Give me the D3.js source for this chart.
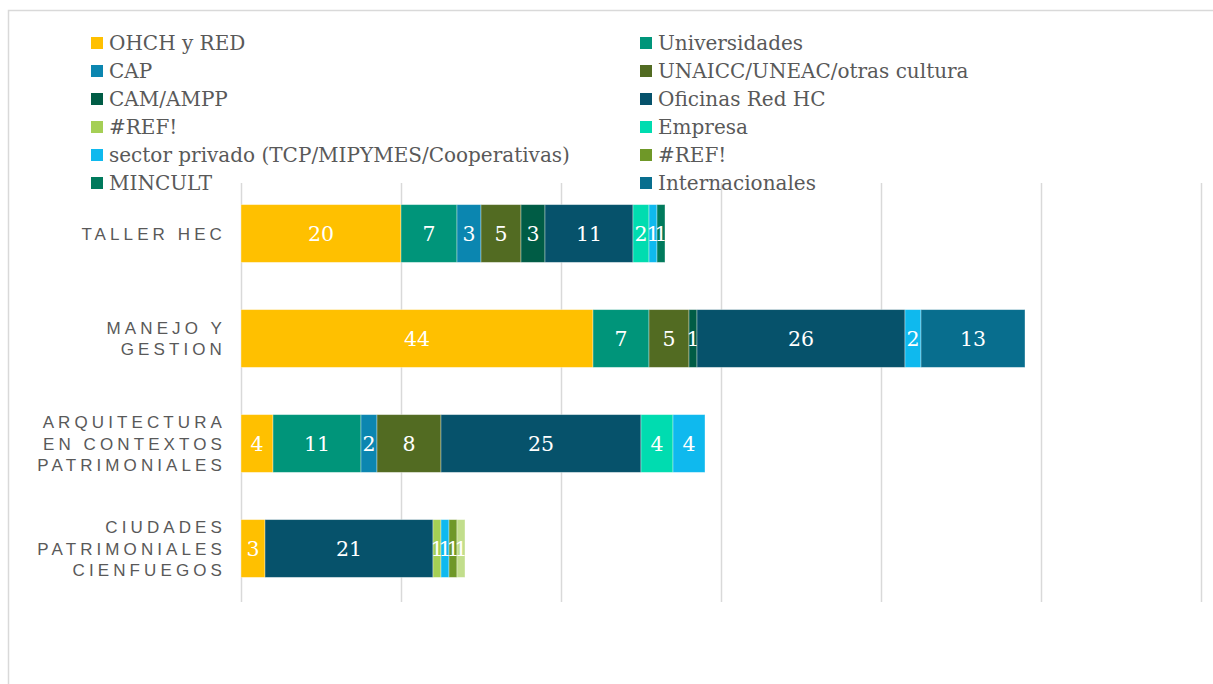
<!DOCTYPE html>
<html>
<head>
<meta charset="utf-8">
<script src="https://cdn.jsdelivr.net/npm/d3@7"></script>
<style>
  body { margin: 0; background: #fff; }
  svg { display: block; }
</style>
</head>
<body>
<div id="chart"></div>
<script>
// Stacked horizontal bars, Excel style

// Data
// ==============================
var categories = [
    ["TALLER HEC"],
    ["MANEJO Y", "GESTION"],
    ["ARQUITECTURA", "EN CONTEXTOS", "PATRIMONIALES"],
    ["CIUDADES", "PATRIMONIALES", "CIENFUEGOS"]
];

var seriesNames = [
    "OHCH y RED", "Universidades", "CAP", "UNAICC/UNEAC/otras cultura",
    "CAM/AMPP", "Oficinas Red HC", "#REF!", "Empresa",
    "sector privado (TCP/MIPYMES/Cooperativas)", "#REF!", "MINCULT",
    "Internacionales", "#REF! "
];

var seriesColors = [
    "#ffc000", "#00957a", "#0b86b0", "#526b22",
    "#005c45", "#06526b", "#a5cf55", "#00dcb0",
    "#0fb9ee", "#6f9828", "#007a5c", "#086e8e", "#c2de8c"
];

// one row per category, one value per series (0 = empty)
var values = [
    [20, 7, 3, 5, 3, 11, 0, 2, 1, 0, 1, 0, 0],
    [44, 7, 0, 5, 1, 26, 0, 0, 2, 0, 0, 13, 0],
    [4, 11, 2, 8, 0, 25, 0, 4, 4, 0, 0, 0, 0],
    [3, 0, 0, 0, 0, 21, 1, 0, 1, 1, 0, 0, 1]
];

var xTicks = [0, 20, 40, 60, 80, 100, 120];

// Layout
// ==============================
var width = 1213;
var height = 684;

var svg = d3.select("#chart")
    .append("svg")
    .attr("width", width)
    .attr("height", height);

// chart frame
svg.append("rect")
    .attr("x", 8.5)
    .attr("y", 10.5)
    .attr("width", 1210)
    .attr("height", 700)
    .attr("fill", "none")
    .attr("stroke", "#d9d9d9")
    .attr("stroke-width", 1.5);

var x = d3.scaleLinear().domain([0, 120]).range([241, 1201]);
var y = d3.scaleBand()
    .domain(d3.range(categories.length))
    .range([181, 601])
    .paddingInner(0.45)
    .paddingOuter(0.225);

// Gridlines
svg.append("g")
    .selectAll("line")
    .data(xTicks)
    .join("line")
    .attr("x1", d => x(d) + 0.5)
    .attr("x2", d => x(d) + 0.5)
    .attr("y1", 183)
    .attr("y2", 602)
    .attr("stroke", "#d9d9d9")
    .attr("stroke-width", 1.5);

// Stack the rows
var table = values.map(function(row, i) {
    var o = { cat: i };
    row.forEach(function(v, j) { o["s" + j] = v; });
    return o;
});
var keys = seriesNames.map((d, j) => "s" + j);
var stacked = d3.stack().keys(keys)(table);

var layers = svg.append("g")
    .selectAll("g")
    .data(stacked)
    .join("g")
    .attr("fill", (d, j) => seriesColors[j]);

layers.selectAll("rect")
    .data(d => d.filter(p => p[1] - p[0] > 0))
    .join("rect")
    .attr("x", d => x(d[0]))
    .attr("y", d => y(d.data.cat))
    .attr("width", d => x(d[1]) - x(d[0]))
    .attr("height", y.bandwidth())
    .attr("stroke", "rgba(255,255,255,0.45)")
    .attr("stroke-width", 0.8);

// Data labels
layers.selectAll("text")
    .data(d => d.filter(p => p[1] - p[0] > 0))
    .join("text")
    .attr("x", d => (x(d[0]) + x(d[1])) / 2)
    .attr("y", d => y(d.data.cat) + y.bandwidth() / 2)
    .attr("dy", "0.36em")
    .attr("text-anchor", "middle")
    .attr("fill", "#fff")
    .style("font-family", "'DejaVu Serif', serif")
    .style("font-size", "20.5px")
    .text(d => d[1] - d[0]);

// Category labels
var catLabels = svg.append("g")
    .selectAll("text")
    .data(categories)
    .join("text")
    .attr("text-anchor", "end")
    .attr("fill", "#595959")
    .style("font-family", "'Liberation Sans', Arial, sans-serif")
    .style("font-size", "17px")
    .style("letter-spacing", "4.1px");

catLabels.selectAll("tspan")
    .data(function(lines, i) {
        return lines.map(function(t, k) {
            return { t: t, k: k, n: lines.length, i: i };
        });
    })
    .join("tspan")
    .attr("x", 226)
    .attr("y", function(d) {
        var c = y(d.i) + y.bandwidth() / 2;
        return c + (d.k - (d.n - 1) / 2) * 21.5 + 6;
    })
    .text(d => d.t);

// Legend (two columns, first 12 series)
var legend = svg.append("g")
    .selectAll("g")
    .data(seriesNames.slice(0, 12))
    .join("g")
    .attr("transform", function(d, j) {
        var col = j % 2, row = Math.floor(j / 2);
        return "translate(" + (col ? 640 : 91) + "," + (43 + row * 28) + ")";
    });

legend.append("rect")
    .attr("x", 0)
    .attr("y", -6)
    .attr("width", 12)
    .attr("height", 12)
    .attr("fill", (d, j) => seriesColors[j]);

legend.append("text")
    .attr("x", 18)
    .attr("dy", "0.36em")
    .attr("fill", "#595959")
    .style("font-family", "'DejaVu Serif', serif")
    .style("font-size", "20px")
    .text(d => d);
</script>
</body>
</html>
